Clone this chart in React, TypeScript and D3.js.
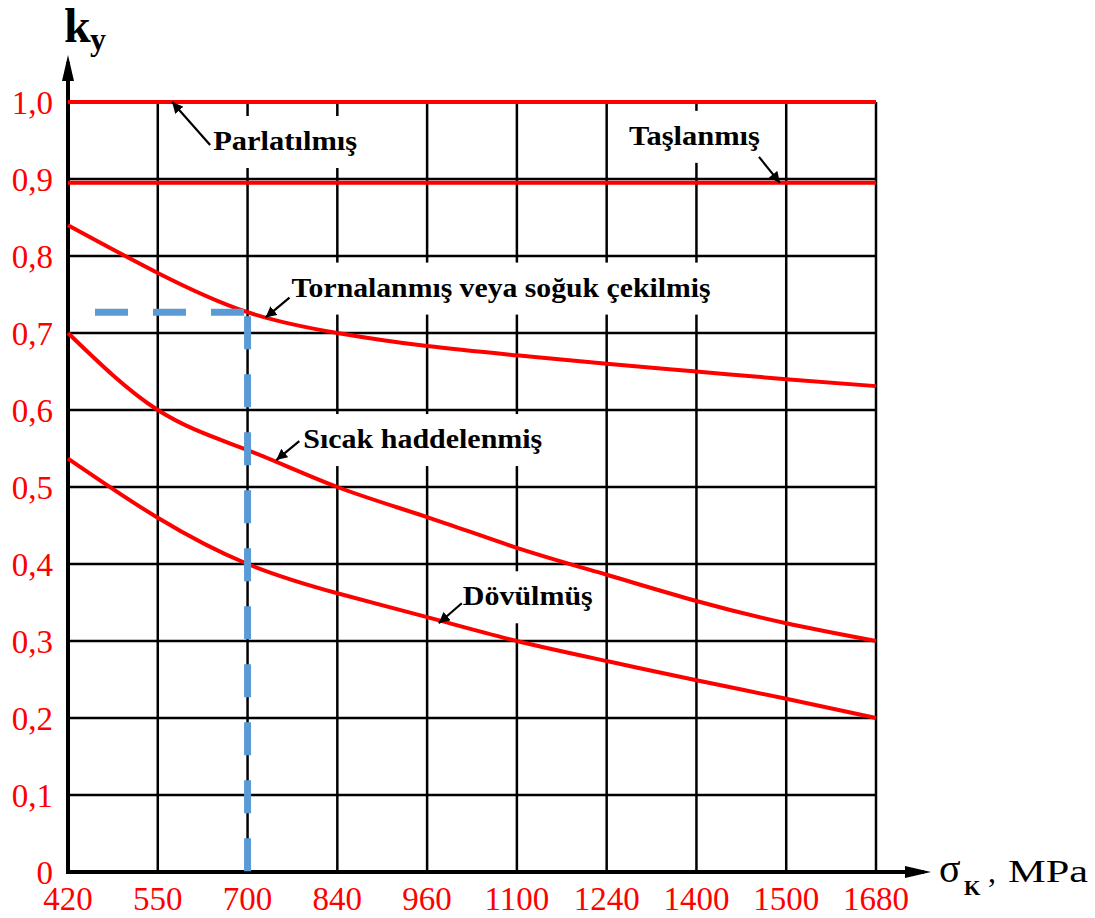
import * as d3 from "d3";

// σK values (equally spaced on the chart)
const xLabels = ["420", "550", "700", "840", "960", "1100", "1240", "1400", "1500", "1680"];
const yTicks = [0, 0.1, 0.2, 0.3, 0.4, 0.5, 0.6, 0.7, 0.8, 0.9, 1.0];
const yTickLabels = ["0", "0,1", "0,2", "0,3", "0,4", "0,5", "0,6", "0,7", "0,8", "0,9", "1,0"];

const parlatilmis = [1.0, 1.0, 1.0, 1.0, 1.0, 1.0, 1.0, 1.0, 1.0, 1.0];
const taslanmis = [0.895, 0.895, 0.895, 0.895, 0.895, 0.895, 0.895, 0.895, 0.895, 0.895];
const tornalanmis = [0.84, 0.778, 0.727, 0.7, 0.683, 0.671, 0.66, 0.65, 0.64, 0.631];
const sicak = [0.7, 0.6, 0.548, 0.5, 0.461, 0.421, 0.386, 0.352, 0.323, 0.3];
const dovulmus = [0.537, 0.46, 0.4, 0.362, 0.331, 0.3, 0.274, 0.249, 0.225, 0.2];

const series = [parlatilmis, taslanmis, tornalanmis, sicak, dovulmus];

// example read-off: σK = 700 -> ky ≈ 0.727
const markX = "700";
const markY = 0.727;

// labels: arrow head at (index, value), tail / text as pixel offsets from the head
const notes = [
  { text: "Parlatılmış", i: 1.16, v: 1.0, tail: [38, 43], pos: [41, 48], w: 144 },
  { text: "Taşlanmış", i: 7.93, v: 0.895, tail: [-21, -26], pos: [-151, -38], w: 131 },
  { text: "Tornalanmış veya soğuk çekilmiş", i: 2.2, v: 0.72, tail: [24, -20], pos: [26, -21], w: 419 },
  { text: "Sıcak haddelenmiş", i: 2.32, v: 0.535, tail: [23, -19], pos: [27, -12], w: 239 },
  { text: "Dövülmüş", i: 4.13, v: 0.323, tail: [23, -20], pos: [24, -18], w: 130 },
];

const W = 1095;
const H = 918;
const serif = "'Liberation Serif', 'Times New Roman', serif";

export default function App() {
  const x = d3.scalePoint<string>().domain(xLabels).range([68, 876]);
  const xi = d3.scaleLinear().domain([0, xLabels.length - 1]).range([68, 876]);
  const y = d3.scaleLinear().domain([0, 1]).range([872, 102]);

  const line = d3
    .line<number>()
    .x((_, i) => xi(i))
    .y((d) => y(d))
    .curve(d3.curveNatural);

  const x0 = x(xLabels[0])!;
  const x1 = x(xLabels[xLabels.length - 1])!;
  const mx = x(markX)!;

  return (
    <svg width={W} height={H} style={{ position: "absolute", left: 0, top: 0, background: "#fff" }}>
      <defs>
        <marker id="ah" viewBox="0 0 10 10" refX="10" refY="5" markerWidth="5" markerHeight="5" orient="auto">
          <path d="M0,0 L10,5 L0,10 z" fill="#000" />
        </marker>
      </defs>

      {/* grid */}
      <g stroke="#000" strokeWidth={2.5}>
        {yTicks.map((t) => (
          <line key={"h" + t} x1={x0} x2={x1} y1={y(t)} y2={y(t)} />
        ))}
        {xLabels.map((l) => (
          <line key={"v" + l} x1={x(l)} x2={x(l)} y1={y(1)} y2={y(0)} />
        ))}
      </g>

      {/* white boxes behind labels */}
      {notes.map((n) => {
        const tx = xi(n.i) + n.pos[0];
        const ty = y(n.v) + n.pos[1];
        return <rect key={"bg" + n.text} x={tx - 4} y={ty - 34} width={n.w + 8} height={52} fill="#fff" />;
      })}

      {/* axes */}
      <g stroke="#000" strokeWidth={4}>
        <line x1={x0} x2={x0} y1={y(0) + 2} y2={62} />
        <line x1={x0 - 2} x2={924} y1={y(0)} y2={y(0)} />
      </g>
      <path d={`M${x0},55 L${x0 - 6},81 L${x0 + 6},81 z`} fill="#000" />
      <path d={`M931,${y(0)} L905,${y(0) - 6} L905,${y(0) + 6} z`} fill="#000" />

      {/* curves */}
      <g fill="none" stroke="#ff0000" strokeWidth={4}>
        {series.map((s, k) => (
          <path key={k} d={line(s) ?? ""} />
        ))}
      </g>

      {/* dashed read-off */}
      <g stroke="#5b9bd5" strokeWidth={7} strokeDasharray="33 25" fill="none">
        <line x1={x0 + 27} x2={mx} y1={y(markY)} y2={y(markY)} />
        <line x1={mx} x2={mx} y1={y(markY) + 4} y2={y(0)} />
      </g>

      {/* annotations */}
      {notes.map((n) => {
        const hx = xi(n.i);
        const hy = y(n.v);
        return (
          <g key={n.text}>
            <line
              x1={hx + n.tail[0]}
              y1={hy + n.tail[1]}
              x2={hx}
              y2={hy}
              stroke="#000"
              strokeWidth={2.2}
              markerEnd="url(#ah)"
            />
            <text
              x={hx + n.pos[0]}
              y={hy + n.pos[1]}
              fontFamily={serif}
              fontWeight="bold"
              fontSize={27}
              textLength={n.w}
              lengthAdjust="spacingAndGlyphs"
            >
              {n.text}
            </text>
          </g>
        );
      })}

      {/* tick labels */}
      <g fill="#ff0000" fontFamily={serif} fontSize={33}>
        {yTicks.map((t, k) => (
          <text key={"yt" + t} x={53} y={y(t) + 12} textAnchor="end">
            {yTickLabels[k]}
          </text>
        ))}
        {xLabels.map((l) => (
          <text key={"xt" + l} x={x(l)} y={910} textAnchor="middle">
            {l}
          </text>
        ))}
      </g>

      {/* axis titles */}
      <text x={64} y={42} fontFamily={serif} fontWeight="bold" fontSize={48}>
        k
      </text>
      <text x={90} y={50} fontFamily={serif} fontWeight="bold" fontSize={32}>
        y
      </text>
      <text x={939} y={882} fontFamily={serif} fontSize={40}>
        σ
      </text>
      <text x={964} y={895} fontFamily={serif} fontWeight="bold" fontSize={21}>
        K
      </text>
      <text x={988} y={882} fontFamily={serif} fontSize={32}>
        ,
      </text>
      <text x={1008} y={882} fontFamily={serif} fontSize={32} textLength={80} lengthAdjust="spacingAndGlyphs">
        MPa
      </text>
    </svg>
  );
}
